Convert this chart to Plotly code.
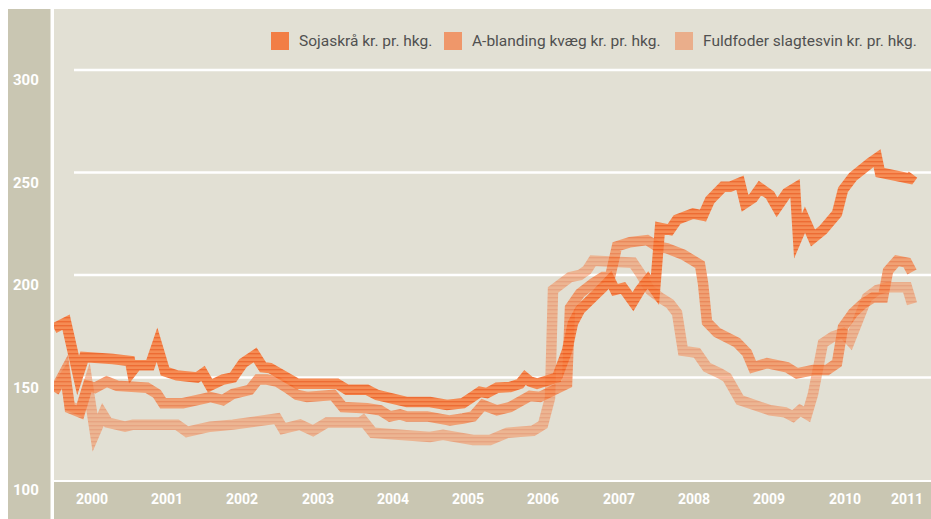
import plotly.graph_objects as go

# ---------------- data (decimal years, kr. pr. hkg.) ----------------
soja_x = [0.00, 0.16, 0.32, 0.40, 0.78, 1.01, 1.036, 1.10, 1.275, 1.368, 1.474, 1.633, 1.90, 1.979,
          2.072, 2.11, 2.244, 2.377, 2.51, 2.67, 2.776, 2.868, 3.094, 3.227, 3.36, 3.493, 3.639,
          3.758, 3.891, 4.064, 4.157, 4.29, 4.595, 4.688, 4.993, 5.219, 5.432, 5.564, 5.657, 5.75,
          5.883, 6.056, 6.189, 6.255, 6.321, 6.414, 6.547, 6.68, 6.813, 6.892, 6.985, 7.078, 7.158,
          7.291, 7.384, 7.45, 7.557, 7.689, 7.782, 7.888, 7.981, 8.048, 8.18, 8.274, 8.486, 8.619,
          8.712, 8.884, 8.977, 9.11, 9.177, 9.283, 9.376, 9.509, 9.602, 9.734, 9.841, 9.88, 9.973,
          10.08, 10.212, 10.398, 10.478, 10.611, 10.837, 10.93, 10.97, 11.102, 11.275, 11.368, 11.408]
soja_y = [174, 177, 151, 160, 159, 158, 153, 156, 156, 166, 153, 151, 150, 152,
          146, 147, 149, 150, 157, 161, 155, 154.6, 150, 147, 147, 147, 148,
          147, 144, 144, 144, 141.5, 139, 138, 138, 136.6, 137.5, 140.5, 143, 142.4,
          145, 145.4, 147, 150, 148, 147, 149, 150, 163, 176.6, 183, 186, 189,
          194, 197.6, 192.7, 193.7, 187, 192.7, 197.6, 192.7, 223, 222, 227, 230, 229,
          236.6, 243, 243, 245, 235, 237.6, 242.4, 239, 233, 240, 242.4, 219, 227,
          218, 222, 230, 241.5, 248, 254.6, 257, 250, 249, 248, 247, 249]

abl_x = [0.00, 0.146, 0.21, 0.345, 0.45, 0.545, 0.70, 0.837, 1.235, 1.368, 1.448, 1.713, 2.032,
         2.072, 2.244, 2.377, 2.60, 2.709, 2.829, 2.961, 3.094, 3.227, 3.36, 3.533, 3.705, 3.838,
         4.024, 4.157, 4.33, 4.462, 4.595, 4.688, 4.954, 5.259, 5.432, 5.564, 5.697, 5.883, 6.056,
         6.189, 6.321, 6.454, 6.68, 6.813, 6.853, 6.985, 7.158, 7.291, 7.384, 7.45, 7.477, 7.65,
         7.875, 8.008, 8.141, 8.353, 8.579, 8.619, 8.672, 8.805, 9.07, 9.203, 9.283, 9.469, 9.602,
         9.734, 9.867, 10.08, 10.266, 10.398, 10.478, 10.611, 10.744, 10.876, 11.009, 11.076,
         11.195, 11.328, 11.394]
abl_y = [143, 153, 135, 133, 146, 145, 148, 146, 145, 142, 137.5, 137.5, 140,
         140.5, 139, 142, 144, 149, 149, 148, 145, 141.5, 140.5, 140.5, 141.5, 135.6,
         135.6, 135, 134, 131, 132, 131, 131, 129, 130, 131, 136.6, 134, 135.6,
         138, 141, 140.5, 144, 147, 184, 191, 196, 199, 199, 212, 214, 216,
         217, 214, 213, 210, 205, 196, 177, 172, 167, 162, 155, 157, 156,
         155, 152, 153.6, 153.6, 157, 174.6, 181.5, 186, 189, 189, 202,
         207, 206, 201.5]

ful_x = [0.00, 0.146, 0.21, 0.345, 0.45, 0.545, 0.65, 0.717, 0.943, 1.05, 1.275, 1.633, 1.766,
         1.90, 2.072, 2.377, 2.696, 2.961, 3.041, 3.267, 3.44, 3.625, 4.064, 4.104, 4.236, 4.595,
         4.821, 4.993, 5.166, 5.564, 5.79, 6.016, 6.149, 6.361, 6.494, 6.587, 6.627, 6.72, 6.853,
         6.985, 7.078, 7.158, 7.344, 7.477, 7.689, 7.782, 7.915, 8.048, 8.18, 8.274, 8.353, 8.539,
         8.672, 8.845, 8.938, 9.11, 9.336, 9.509, 9.708, 9.814, 9.907, 10.0, 10.08, 10.212, 10.345,
         10.478, 10.571, 10.664, 10.797, 10.93, 11.062, 11.235, 11.328, 11.394]
ful_y = [143, 151, 136, 134, 146, 123, 132, 128, 126, 127, 127, 127, 123.5,
         125, 126, 127, 128, 130, 125, 127, 124, 128, 128, 129, 123, 122,
         122, 121, 122, 119.5, 119.5, 123, 123.4, 124, 127, 140, 192.7, 196, 199,
         200, 202.4, 207, 207, 206, 206, 201, 192.7, 189, 186, 181.5, 163, 162,
         155, 152, 150, 139, 135.6, 134, 133, 131, 134, 132, 142, 166.8, 170,
         171.7, 168, 178, 189, 192.7, 194, 194, 194, 186]

series_names = ["Sojaskrå kr. pr. hkg.", "A-blanding kvæg kr. pr. hkg.", "Fuldfoder slagtesvin kr. pr. hkg."]
y_ticks = [100, 150, 200, 250, 300]
year_labels = ["2000", "2001", "2002", "2003", "2004", "2005", "2006", "2007", "2008", "2009", "2010", "2011"]

# ---------------- styling ----------------
W, H = 931, 519
L, T, B = 54, 9, 39
PW, PH = W - L, H - T - B
BASE = 2000
colors = ["rgba(245,110,45,0.86)", "rgba(245,110,45,0.64)", "rgba(245,110,45,0.43)"]
opac = [0.88, 0.66, 0.45]
band = "#C9C6B2"
plotbg = "#E2E0D4"
font_cond = "Liberation Sans Narrow, Roboto, Liberation Sans, sans-serif"


def px(xpix):
    return (xpix - L) / PW


def py(ypix):
    return (H - B - ypix) / PH


fig = go.Figure()
for xs, ys, c, n in zip([soja_x, abl_x, ful_x], [soja_y, abl_y, ful_y], colors, series_names):
    fig.add_trace(go.Scatter(x=[BASE + v for v in xs], y=ys, mode="lines", name=n,
                             line=dict(color=c, width=10.5), hoverinfo="skip", showlegend=False))

shapes = [
    dict(type="rect", xref="paper", yref="paper", x0=px(8), x1=px(50.5), y0=py(H), y1=py(T),
         fillcolor=band, line=dict(width=0)),
    dict(type="rect", xref="paper", yref="paper", x0=0, x1=1, y0=py(H), y1=py(482),
         fillcolor=band, line=dict(width=0)),
]
for v in y_ticks[1:]:
    shapes.append(dict(type="line", xref="paper", yref="y", x0=px(74), x1=1, y0=v, y1=v,
                       line=dict(color="white", width=2.5), layer="below"))

annotations = []
for v in y_ticks:
    annotations.append(dict(xref="paper", yref="y", x=px(26), y=v, yshift=-10, showarrow=False,
                            text="<b>%d</b>" % v, xanchor="center", yanchor="middle",
                            font=dict(family=font_cond, size=15, color="white")))
for i, lab in enumerate(year_labels):
    xv = BASE + i + 0.5 if i < len(year_labels) - 1 else BASE + i + 0.33
    annotations.append(dict(xref="x", yref="paper", x=xv, y=py(499), showarrow=False,
                            text="<b>%s</b>" % lab, xanchor="center", yanchor="middle",
                            font=dict(family=font_cond, size=14, color="white")))

# legend (manual)
leg_x = [271, 444, 675]
for lx, c, n in zip(leg_x, colors, series_names):
    shapes.append(dict(type="rect", xref="paper", yref="paper", x0=px(lx), x1=px(lx + 18),
                       y0=py(50), y1=py(32), fillcolor=c, line=dict(width=0)))
    annotations.append(dict(xref="paper", yref="paper", x=px(lx + 26), y=py(41), showarrow=False,
                            text=n, xanchor="left", yanchor="middle",
                            font=dict(family=font_cond, size=15.5, color="#505050")))

fig.update_layout(
    width=W, height=H,
    margin=dict(l=L, r=0, t=T, b=B, pad=0),
    paper_bgcolor="white", plot_bgcolor=plotbg,
    xaxis=dict(range=[BASE, BASE + PW / 75.3], showgrid=False, zeroline=False, showticklabels=False,
               ticks="", showline=False, fixedrange=True),
    yaxis=dict(range=[100, 100 + PH / 2.05], showgrid=False, zeroline=False, showticklabels=False,
               ticks="", showline=False, fixedrange=True),
    shapes=shapes, annotations=annotations, showlegend=False,
)

post = """
document.body.style.margin = '0';
var gd = document.getElementById('{plot_id}');
var OPAC = %s;
function fixLines(){
  var svg = gd.querySelector('svg.main-svg');
  if (!svg) return;
  var ns = 'http://www.w3.org/2000/svg';
  var defs = svg.querySelector('defs');
  if (!defs) { defs = document.createElementNS(ns, 'defs'); svg.insertBefore(defs, svg.firstChild); }
  if (!svg.querySelector('#lnstripe')) {
    var p = document.createElementNS(ns, 'pattern');
    p.setAttribute('id', 'lnstripe'); p.setAttribute('patternUnits', 'userSpaceOnUse');
    p.setAttribute('width', '8'); p.setAttribute('height', '4');
    var r1 = document.createElementNS(ns, 'rect');
    r1.setAttribute('width', '8'); r1.setAttribute('height', '4'); r1.setAttribute('fill', 'rgb(248,128,66)');
    var r2 = document.createElementNS(ns, 'rect');
    r2.setAttribute('width', '8'); r2.setAttribute('height', '1.4'); r2.setAttribute('fill', 'rgb(238,92,30)');
    p.appendChild(r1); p.appendChild(r2); defs.appendChild(p);
  }
  gd.querySelectorAll('.scatterlayer .trace').forEach(function(t, i){
    t.querySelectorAll('path.js-line').forEach(function(pp){
      pp.style.stroke = 'url(#lnstripe)';
      pp.style.strokeOpacity = String(OPAC[i] !== undefined ? OPAC[i] : 0.8);
      pp.style.strokeMiterlimit = '10';
      pp.style.strokeLinejoin = 'miter';
    });
  });
}
fixLines();
gd.on('plotly_afterplot', fixLines);
""" % str(opac)
fig.write_html("out.html", config={"displayModeBar": False}, post_script=post)
